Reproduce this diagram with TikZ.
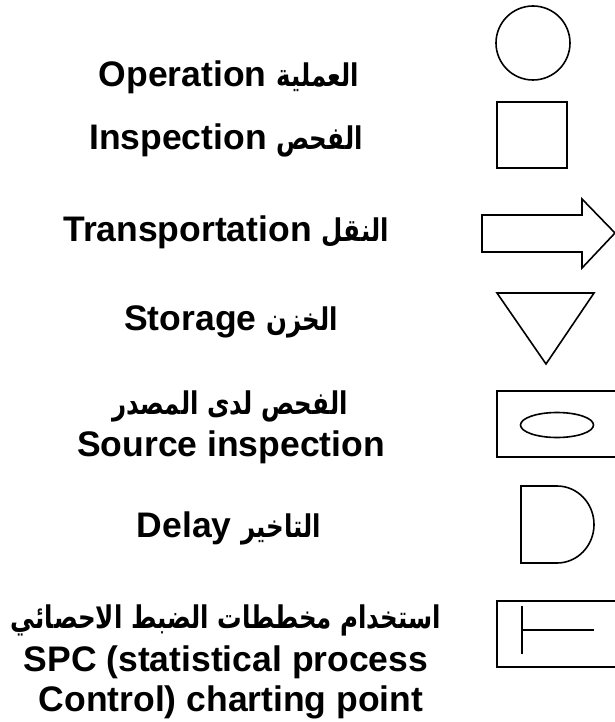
\documentclass[tikz,border=0pt]{standalone}
\usepackage{graphicx}
\usepackage{fontspec}
\setmainfont{Liberation Sans}
\newfontfamily\arabicfont[Script=Arabic]{DejaVu Sans}
\TeXXeTstate=1
% Arabic runs: narrowed horizontally, nearly full height
\newcommand{\ar}[1]{\scalebox{0.69}[0.88]{\arabicfont\bfseries\beginR #1\endR}}
\begin{document}
\begin{tikzpicture}[x=1pt,y=-1pt,
  label/.style={anchor=base,align=center,font=\fontsize{35.5}{40}\selectfont\bfseries,inner sep=0pt},
  symbol/.style={draw=black,line width=1.6pt,line join=miter}]
\useasboundingbox (0,0) rectangle (615,722);

% captions, one row per flow-chart symbol
\node[label] (op)  at (229,87)  {Operation \ar{العملية}};
\node[label] (ins) at (226,150) {Inspection \ar{الفحص}};
\node[label] (tr)  at (226,241) {Transportation \ar{النقل}};
\node[label] (st)  at (231,330) {Storage \ar{الخزن}};
\node[label] (srcA) at (230,414) {\ar{الفحص لدى المصدر}};
\node[label] (srcE) at (231,456) {Source inspection};
\node[label] (dl)  at (229,537) {Delay \ar{التاخير}};
\node[label] (spcA) at (226,628) {\ar{استخدام مخططات الضبط الاحصائي}};
\node[label] (spcB) at (226,671) {SPC (statistical process};
\node[label] (spcC) at (231,711) {Control) charting point};

% operation
\draw[symbol] (533,43) circle (37);
% inspection
\draw[symbol] (497,102) rectangle (567,168);
% transportation
\draw[symbol] (482,215) -- (582,215) -- (582,199) -- (615,233) -- (582,268) -- (582,252) -- (482,252) -- cycle;
% storage
\draw[symbol] (497,293) -- (594,293) -- (546,364) -- cycle;
% source inspection
\draw[symbol] (497,391) rectangle (625,457);
\draw[symbol] (557,425) ellipse [x radius=36.5, y radius=12.5];
% delay
\draw[symbol] (521,486) -- (557,486) arc[start angle=-90, end angle=90, x radius=37, y radius=38.5] -- (521,563) -- cycle;
% SPC charting point
\draw[symbol] (497,601) rectangle (625,667);
\draw[symbol] (522,606) -- (522,654);
\draw[symbol] (522,630) -- (594,630);
\end{tikzpicture}
\end{document}
